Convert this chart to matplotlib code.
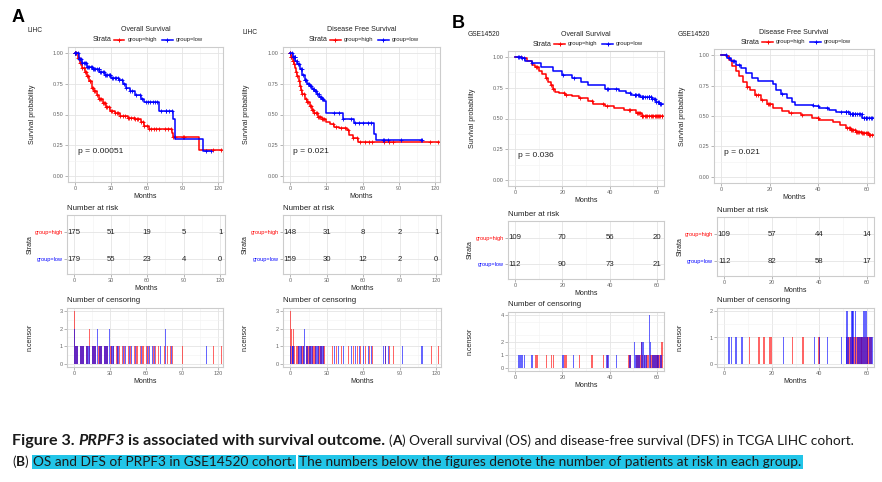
import numpy as np
import matplotlib
matplotlib.use('Agg')
import matplotlib.pyplot as plt
from matplotlib.lines import Line2D

plt.rcParams['font.family'] = ['Liberation Sans', 'DejaVu Sans']

W, H = 882, 482

# ---------------- data ----------------
# LIHC overall survival: step breakpoints (months, survival)
lihc_os_hi_t = [0, 2, 4, 6, 8, 10, 12, 14, 16, 18, 20, 23, 26, 29, 33, 38, 44, 50, 55, 58, 62, 81, 82, 104, 123]
lihc_os_hi_s = [1.0, 0.96, 0.92, 0.88, 0.85, 0.81, 0.77, 0.72, 0.69, 0.66, 0.63, 0.59, 0.56, 0.53, 0.51, 0.49, 0.47, 0.46, 0.44, 0.41, 0.38, 0.35, 0.32, 0.21, 0.21]
lihc_os_lo_t = [0, 3, 6, 10, 15, 20, 25, 30, 37, 40, 43, 46, 50, 55, 58, 70, 82, 84, 107, 113]
lihc_os_lo_s = [1.0, 0.95, 0.92, 0.89, 0.87, 0.85, 0.82, 0.80, 0.78, 0.75, 0.72, 0.69, 0.66, 0.63, 0.60, 0.53, 0.46, 0.30, 0.20, 0.20]

# LIHC disease free survival
lihc_dfs_hi_t = [0, 1, 2, 3, 4, 5, 6, 7, 8, 9, 10, 12, 14, 16, 18, 20, 23, 26, 30, 33, 36, 40, 47, 49, 52, 56, 123]
lihc_dfs_hi_s = [1.0, 0.97, 0.94, 0.91, 0.88, 0.85, 0.81, 0.77, 0.73, 0.70, 0.67, 0.63, 0.60, 0.57, 0.54, 0.51, 0.48, 0.46, 0.44, 0.42, 0.40, 0.39, 0.37, 0.33, 0.31, 0.28, 0.28]
lihc_dfs_lo_t = [0, 2, 4, 6, 8, 10, 12, 14, 16, 18, 20, 22, 24, 26, 28, 30, 41, 44, 53, 69, 71, 109.5]
lihc_dfs_lo_s = [1.0, 0.97, 0.94, 0.91, 0.87, 0.82, 0.78, 0.75, 0.73, 0.71, 0.69, 0.67, 0.645, 0.625, 0.61, 0.51, 0.51, 0.46, 0.43, 0.34, 0.29, 0.29]

# GSE14520 overall survival
gse_os_hi_t = [0, 3, 5, 7, 8.5, 10, 11.5, 13, 14, 15, 16, 17, 18.5, 21, 24, 27, 31, 33, 38, 42, 46, 51, 53.5, 62.5]
gse_os_hi_s = [1.0, 0.99, 0.97, 0.94, 0.92, 0.89, 0.86, 0.83, 0.80, 0.77, 0.74, 0.72, 0.705, 0.69, 0.68, 0.665, 0.645, 0.615, 0.60, 0.585, 0.57, 0.545, 0.52, 0.52]
gse_os_lo_t = [0, 2.5, 4, 7, 11, 16, 20, 24, 28, 31, 38, 44, 47, 49, 53, 58, 59.5, 61, 62.5]
gse_os_lo_s = [1.0, 0.99, 0.97, 0.95, 0.92, 0.885, 0.855, 0.83, 0.80, 0.77, 0.74, 0.725, 0.71, 0.69, 0.675, 0.655, 0.635, 0.615, 0.615]

# GSE14520 disease free survival
gse_dfs_hi_t = [0, 1.8, 3, 4.5, 6, 7.5, 9, 10.5, 12, 14, 16.5, 19, 21.5, 25, 28, 33, 37.5, 40.5, 46, 49, 51.5, 53.5, 55.5, 58, 61, 63]
gse_dfs_hi_s = [1.0, 0.99, 0.96, 0.91, 0.87, 0.83, 0.78, 0.74, 0.71, 0.67, 0.635, 0.60, 0.565, 0.545, 0.525, 0.505, 0.485, 0.465, 0.45, 0.425, 0.40, 0.385, 0.37, 0.36, 0.34, 0.34]
gse_dfs_lo_t = [0, 2.5, 4, 6, 8, 10, 12.5, 15, 20.5, 21.5, 22.5, 24.5, 27, 29, 30.5, 38, 40.5, 44.5, 47.5, 53, 57.5, 58.2, 63]
gse_dfs_lo_s = [1.0, 0.98, 0.95, 0.92, 0.89, 0.855, 0.815, 0.79, 0.785, 0.76, 0.71, 0.68, 0.65, 0.615, 0.59, 0.585, 0.565, 0.55, 0.53, 0.52, 0.515, 0.48, 0.48]

# censoring times (repeats = several censored at that time)
lihc_os_hi_c = [0, 0, 0, 1, 2, 3, 4, 5, 6, 7, 8, 9, 10, 11, 12.6, 12.6, 14, 15, 16, 17, 18, 20, 21, 22, 23, 24, 25, 26, 27, 28,
                30, 31, 33, 35, 36, 38, 40, 42, 44, 45, 47, 49, 50, 52, 53, 55, 57, 58, 60, 62, 64, 66, 68, 70, 75, 78, 80,
                82, 84, 90.5, 91.5, 116, 122.5]
lihc_os_lo_c = [0, 0, 1, 2, 3, 4, 5, 6, 7, 8, 9, 10, 11, 12, 13, 14, 15, 16, 17, 18, 19.7, 19.7, 21, 22, 23, 24, 25, 26, 27, 28,
                29.5, 29.5, 31, 32, 33, 34, 36, 37, 39, 41, 43, 46, 48, 51, 54, 56, 59, 61, 63, 65, 67, 69, 72, 76.4, 76.4,
                79, 81, 110, 114]
lihc_dfs_hi_c = [0, 0, 0, 1, 1, 2.5, 2.5, 3.5, 5, 6, 7, 8, 9, 10, 11, 13, 14, 15, 16, 17, 18, 19, 20, 21, 22, 23, 24, 25, 26, 27,
                 28, 35, 38, 42, 45, 48, 52, 55, 58, 62, 65, 68, 78, 82, 85, 116, 122]
lihc_dfs_lo_c = [0, 1.5, 2, 3, 3.9, 3.9, 5.5, 6.5, 7.5, 8.5, 9.5, 10.5, 12, 12, 13, 14.5, 15.5, 16.5, 17.5, 18.5, 19.5, 20.5,
                 21.5, 22.5, 23.5, 24.5, 25.5, 26.5, 27.5, 36, 40, 44, 50, 54, 57, 60, 64, 67, 77, 78, 81, 92, 108, 109]
gse_os_hi_c = [8.8, 9.4, 13.2, 15.3, 16.2, 20.8, 21.5, 27.3, 32.6, 37.3, 39, 48, 48.6, 51.5, 52, 52.5, 53, 53.5, 53.5, 54,
               54.8, 55.5, 56, 56.5, 57.5, 58, 58.5, 59, 59.5, 60, 60.5, 61, 61.5, 62.2, 62.2]
gse_os_lo_c = [1.3, 1.8, 2.3, 2.9, 3.9, 7.1, 20.3, 24.8, 38.8, 39.3, 42.8, 48.6, 50.6, 50.6, 51.2, 52, 52.5, 53.7, 53.7,
               54.2, 54.2, 55, 55.6, 56.8, 56.8, 56.8, 56.8, 57.3, 57.3, 58, 58.6, 59.2, 59.7, 60.3, 60.8, 61.4, 61.9]
gse_dfs_hi_c = [10.6, 14.5, 15, 16.7, 19.1, 19.5, 19.9, 28.7, 33.2, 39.7, 40.1, 52, 52.5, 53, 53.5, 54, 54.5, 55, 55.5,
                56, 56.5, 57, 57.5, 58, 58.5, 59, 59.5, 60, 60.5, 61, 61.5, 62]
gse_dfs_lo_c = [2.1, 3, 4.7, 5.1, 7.5, 25.1, 37.9, 40, 43.5, 49.2, 51.3, 51.6, 51.6, 52.3, 53, 53.8, 53.8, 54.2, 54.2,
                55.2, 55.2, 56, 56.7, 57.3, 58, 58.8, 58.8, 59.7, 59.7, 60.3, 61, 61.6, 62.2]

# numbers at risk
lihc_risk_t = [0, 30, 60, 90, 120]
lihc_os_risk_hi = [175, 51, 19, 5, 1]
lihc_os_risk_lo = [179, 55, 23, 4, 0]
lihc_dfs_risk_hi = [148, 31, 8, 2, 1]
lihc_dfs_risk_lo = [159, 30, 12, 2, 0]
gse_risk_t = [0, 20, 40, 60]
gse_os_risk_hi = [109, 70, 56, 20]
gse_os_risk_lo = [112, 90, 73, 21]
gse_dfs_risk_hi = [109, 57, 44, 14]
gse_dfs_risk_lo = [112, 82, 58, 17]

# ---------------- drawing ----------------
fig = plt.figure(figsize=(W / 100, H / 100), dpi=100)
RED, BLUE = '#FF0000', '#0000FF'
TXT = '#222222'


def fx(x):
    return x / W


def fy(y):
    return 1 - y / H


def px_axes(l, r, t, b):
    return fig.add_axes([l / W, 1 - b / H, (r - l) / W, (b - t) / H])


def style(ax, xlim, xticks, ylim, yticks):
    ax.set_xlim(xlim)
    ax.set_ylim(ylim)
    ax.set_xticks(xticks)
    step = xticks[1] - xticks[0]
    ax.set_xticks([x + step / 2 for x in xticks[:-1]], minor=True)
    ax.set_yticks(yticks)
    ax.grid(True, which='major', color='#e4e4e4', lw=0.6)
    ax.grid(True, which='minor', color='#f2f2f2', lw=0.4)
    ax.set_axisbelow(True)
    for sp in ax.spines.values():
        sp.set_color('#cccccc')
        sp.set_linewidth(0.8)
    ax.tick_params(which='major', length=2, width=0.5, color='#999999',
                   labelsize=4, labelcolor='#666666', pad=1)
    ax.tick_params(which='minor', length=0)
    ax.set_xlabel('Months', fontsize=5, color=TXT, labelpad=1)


def surv_at(t, s, c):
    idx = np.searchsorted(t, c, side='right') - 1
    return np.array(s)[np.clip(idx, 0, len(s) - 1)]


def legend(cx, y):
    fig.text(fx(cx - 53), fy(y), 'Strata', fontsize=5, va='center', ha='left', color=TXT)
    for x0, col, lab in [(cx - 32, RED, 'group=high'), (cx + 16, BLUE, 'group=low')]:
        fig.add_artist(Line2D([fx(x0), fx(x0 + 11)], [fy(y)] * 2, color=col, lw=1.1,
                              transform=fig.transFigure))
        fig.add_artist(Line2D([fx(x0 + 5.5)], [fy(y)], marker='+', ms=3.5, mew=0.7, color=col,
                              transform=fig.transFigure))
        fig.text(fx(x0 + 14), fy(y), lab, fontsize=4.2, va='center', ha='left', color=TXT)


panels = [
    dict(cohort='LIHC', coh_xy=(28, 31), title='Overall Survival', title_y=29.5, leg_y=39.5,
         km=(68, 223, 47, 182), risk=(67, 225, 215, 274), cens=(67, 223, 308, 367), ylab_x=32,
         xlim=(-6, 124), xticks=[0, 30, 60, 90, 120], risk_t=lihc_risk_t,
         hi=(lihc_os_hi_t, lihc_os_hi_s, lihc_os_hi_c), lo=(lihc_os_lo_t, lihc_os_lo_s, lihc_os_lo_c),
         r_hi=lihc_os_risk_hi, r_lo=lihc_os_risk_lo, p='p = 0.00051', cyt=[0, 1, 2, 3], cmax=3, bw=0.75),
    dict(cohort='LIHC', coh_xy=(243, 32), title='Disease Free Survival', title_y=29.5, leg_y=39.5,
         km=(283, 440, 47, 182), risk=(283, 441, 215, 274), cens=(283, 441, 308, 367), ylab_x=247,
         xlim=(-6, 124), xticks=[0, 30, 60, 90, 120], risk_t=lihc_risk_t,
         hi=(lihc_dfs_hi_t, lihc_dfs_hi_s, lihc_dfs_hi_c), lo=(lihc_dfs_lo_t, lihc_dfs_lo_s, lihc_dfs_lo_c),
         r_hi=lihc_dfs_risk_hi, r_lo=lihc_dfs_risk_lo, p='p = 0.021', cyt=[0, 1, 2, 3], cmax=3, bw=0.75),
    dict(cohort='GSE14520', coh_xy=(468, 35), title='Overall Survival', title_y=34, leg_y=44,
         km=(508, 664, 51, 186), risk=(508, 664, 221, 279), cens=(508, 664, 312, 371), ylab_x=472,
         xlim=(-3, 63), xticks=[0, 20, 40, 60], risk_t=gse_risk_t,
         hi=(gse_os_hi_t, gse_os_hi_s, gse_os_hi_c), lo=(gse_os_lo_t, gse_os_lo_s, gse_os_lo_c),
         r_hi=gse_os_risk_hi, r_lo=gse_os_risk_lo, p='p = 0.036', cyt=[0, 1, 2, 4], cmax=4, bw=0.55),
    dict(cohort='GSE14520', coh_xy=(678, 34), title='Disease Free Survival', title_y=33, leg_y=42,
         km=(714, 874, 49, 183), risk=(717, 874, 217, 276), cens=(717, 874, 308, 367), ylab_x=682,
         xlim=(-3, 63), xticks=[0, 20, 40, 60], risk_t=gse_risk_t,
         hi=(gse_dfs_hi_t, gse_dfs_hi_s, gse_dfs_hi_c), lo=(gse_dfs_lo_t, gse_dfs_lo_s, gse_dfs_lo_c),
         r_hi=gse_dfs_risk_hi, r_lo=gse_dfs_risk_lo, p='p = 0.021', cyt=[0, 1, 2], cmax=2, bw=0.55),
]

for P in panels:
    l, r, t, b = P['km']
    cx = (l + r) / 2
    fig.text(fx(P['coh_xy'][0]), fy(P['coh_xy'][1]), P['cohort'], fontsize=4.8, color=TXT, va='center')
    fig.text(fx(cx), fy(P['title_y']), P['title'], fontsize=5, color=TXT, ha='center', va='center')
    legend(cx, P['leg_y'])

    # survival curves
    ax = px_axes(*P['km'])
    for (tt, ss, cc), col in [(P['hi'], RED), (P['lo'], BLUE)]:
        ax.step(tt, ss, where='post', color=col, lw=1.1)
        ax.plot(cc, surv_at(tt, ss, cc), '+', color=col, ms=3, mew=0.6)
    style(ax, P['xlim'], P['xticks'], (-0.05, 1.05), [0, 0.25, 0.5, 0.75, 1.0])
    ax.set_yticks([0.125, 0.375, 0.625, 0.875], minor=True)
    ax.set_yticklabels(['0.00', '0.25', '0.50', '0.75', '1.00'])
    ax.text(P['xlim'][1] * 0.02, 0.2, P['p'], fontsize=6.1, color=TXT, va='center')
    fig.text(fx(P['ylab_x']), fy((t + b) / 2), 'Survival probability', rotation=90,
             fontsize=5, color=TXT, ha='center', va='center')

    # number at risk table
    l, r, t, b = P['risk']
    ax = px_axes(*P['risk'])
    style(ax, P['xlim'], P['xticks'], (0.45, 2.63), [1, 2])
    ax.set_yticklabels(['group=low', 'group=high'])
    for lab, col in zip(ax.get_yticklabels(), [BLUE, RED]):
        lab.set_color(col)
    for x, n in zip(P['risk_t'], P['r_hi']):
        ax.text(x, 2, str(n), fontsize=5.6, color=TXT, ha='center', va='center')
    for x, n in zip(P['risk_t'], P['r_lo']):
        ax.text(x, 1, str(n), fontsize=5.6, color=TXT, ha='center', va='center')
    fig.text(fx(l), fy(t - 7), 'Number at risk', fontsize=5.7, color=TXT, ha='left', va='center')
    fig.text(fx(P['ylab_x'] - 2), fy((t + b) / 2), 'Strata', rotation=90,
             fontsize=5, color=TXT, ha='center', va='center')

    # number of censoring
    l, r, t, b = P['cens']
    ax = px_axes(*P['cens'])
    for cc, col in [(P['hi'][2], RED), (P['lo'][2], BLUE)]:
        ut, cnt = np.unique(cc, return_counts=True)
        ax.bar(ut, cnt, width=P['bw'], color=col, alpha=0.6, lw=0)
    pad = P['cmax'] * 0.055
    style(ax, P['xlim'], P['xticks'], (-pad, P['cmax'] + pad), P['cyt'])
    ax.set_yticks([v + 0.5 for v in range(P['cmax'])], minor=True)
    fig.text(fx(l), fy(t - 8), 'Number of censoring', fontsize=5.7, color=TXT, ha='left', va='center')
    fig.text(fx(P['ylab_x'] - 2), fy((t + b) / 2), 'n.censor', rotation=90,
             fontsize=5, color=TXT, ha='center', va='center')

# panel letters
fig.text(fx(12), fy(17), 'A', fontsize=13, weight='bold', color='black', va='center')
fig.text(fx(452), fy(24), 'B', fontsize=13, weight='bold', color='black', va='center')

# ---------------- caption ----------------
CAP = ['Lato', 'Liberation Sans', 'DejaVu Sans']
HL = '#22C5E8'
renderer = fig.canvas.get_renderer()

line1 = [('Figure 3.', 'bold', 'normal', False, False),
         ('PRPF3', 'bold', 'italic', True, False),
         ('is associated with survival outcome.', 'bold', 'normal', True, False),
         ('(', 'normal', 'normal', True, False),
         ('A', 'bold', 'normal', False, False),
         (') Overall survival (OS) and disease-free survival (DFS) in TCGA LIHC cohort.', 'normal', 'normal', False, False)]
line2 = [('(', 'normal', 'normal', False, False),
         ('B', 'bold', 'normal', False, False),
         (')', 'normal', 'normal', False, False),
         ('OS and DFS of PRPF3 in GSE14520 cohort.', 'normal', 'normal', True, True),
         ('The numbers below the figures denote the number of patients at risk in each group.', 'normal', 'normal', True, True)]


def measure(s, size, weight, style_):
    tx = fig.text(0, 0, s, fontsize=size, weight=weight, style=style_, family=CAP)
    w = tx.get_window_extent(renderer).width
    tx.remove()
    return w


def space(size):
    return measure('a a', size, 'normal', 'normal') - measure('aa', size, 'normal', 'normal')


def run_len(runs, size):
    return sum(measure(s, size, w, st) for s, w, st, _, _ in runs) + space(size) * sum(1 for r in runs if r[3])


# regular text sized so line 2 ends where it does; bold heading sized to its own span
size_n = 10 * 785 / run_len(line2, 10)
size_b = 10 * 375 / run_len(line1[:3], 10)


def draw_runs(runs, x, y):
    sp = space(size_n)
    for s, w, st, gap, hl in runs:
        if gap:
            x += sp * 1.3 if hl else sp
        sz = size_b if (w == 'bold' and len(s) > 1) else size_n
        kw = dict(fontsize=sz, weight=w, style=st, family=CAP, color='#1a1a1a', va='center', ha='left')
        if hl:
            kw['bbox'] = dict(boxstyle='square,pad=0.1', fc=HL, ec='none')
        fig.text(fx(x), fy(y), s, **kw)
        x += measure(s, sz, w, st)


draw_runs(line1, 12, 441)
draw_runs(line2, 12, 462)

fig.savefig('out.png', dpi=100)
